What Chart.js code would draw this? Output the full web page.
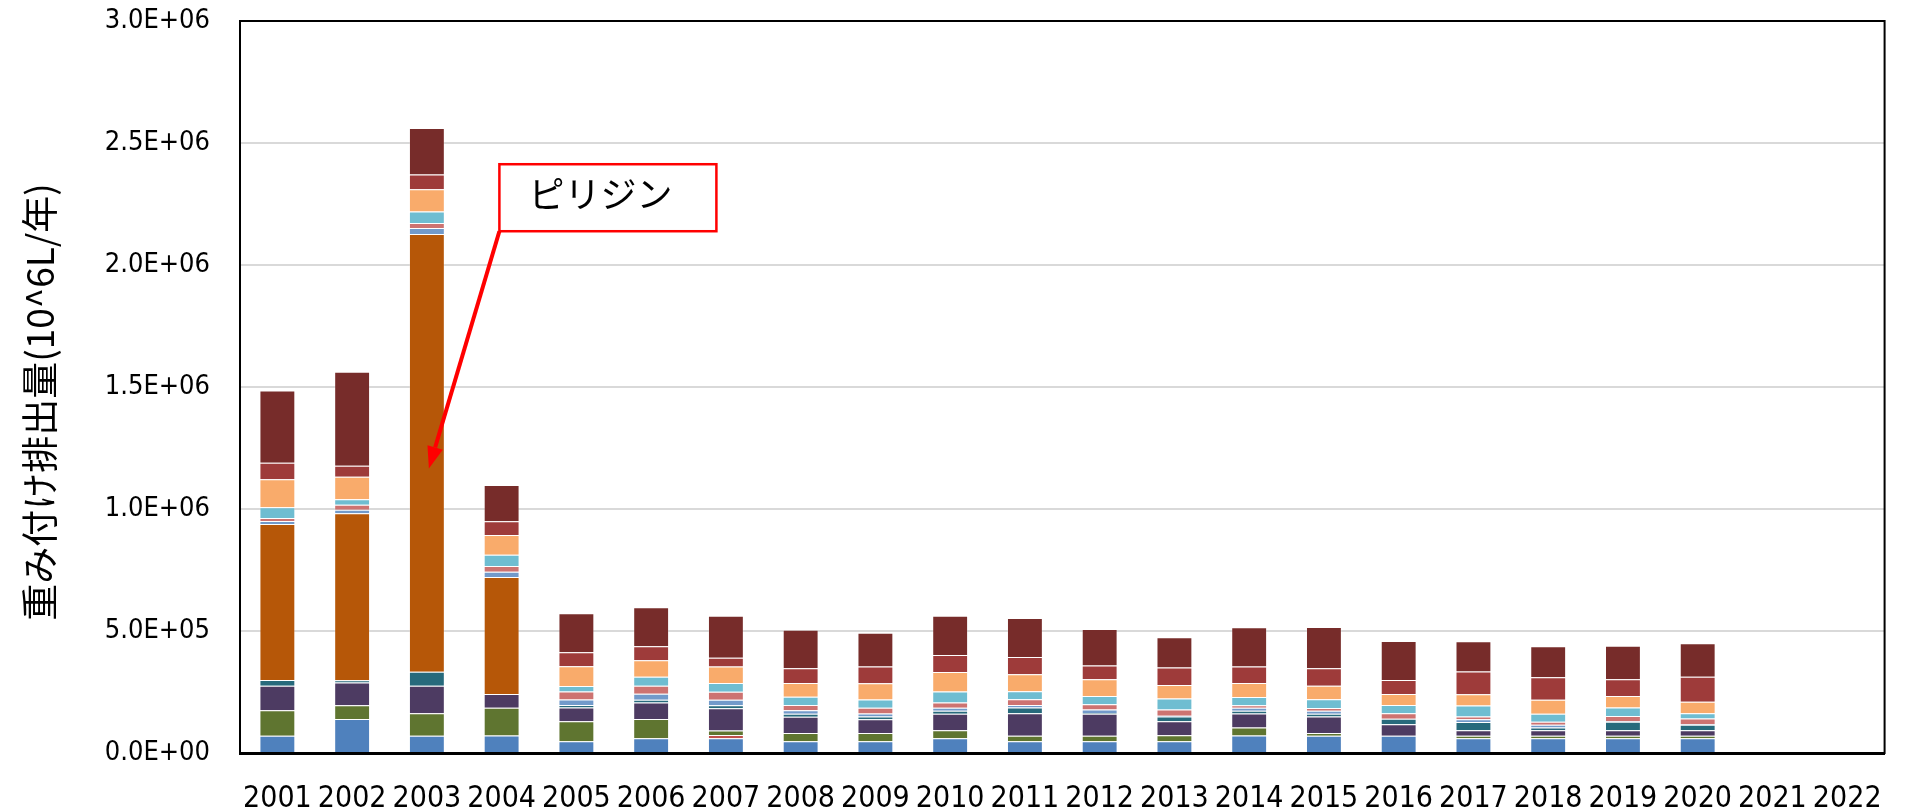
<!DOCTYPE html>
<html lang="ja">
<head>
<meta charset="utf-8">
<title>重み付け排出量</title>
<script src="https://cdn.jsdelivr.net/npm/chart.js@4/dist/chart.umd.min.js"></script>
<style>
  html, body { margin: 0; padding: 0; background: #ffffff; }
  #wrap { width: 1910px; height: 812px; }
</style>
</head>
<body>
<div id="wrap"><canvas id="chart" width="1910" height="812"></canvas></div>
<script>
// Years on the horizontal axis
const years = ['2001','2002','2003','2004','2005','2006','2007','2008','2009','2010','2011',
               '2012','2013','2014','2015','2016','2017','2018','2019','2020','2021','2022'];

// Weighted emissions per substance (10^6 L / year), stacked bottom to top
const seriesBlue      = [71000,139000,71000,72000,48000,60000,60000,48000,48000,60000,48000,48000,48000,72000,71000,71000,60000,60000,60000,60000,null,null];
const seriesRed       = [0,0,0,0,0,0,13500,0,0,0,0,0,0,0,0,0,0,0,0,0,null,null];
const seriesGreen     = [104000,57000,92000,113000,82000,79000,19000,34000,34000,33000,23000,23000,25000,33000,11000,0,11000,11000,11000,11000,null,null];
const seriesPurple    = [101000,93000,113000,57000,56000,68000,91000,67000,56000,68000,92000,90000,57000,57000,68000,47000,22000,22000,22000,22000,null,null];
const seriesTeal      = [23000,9000,57000,0,11000,11000,12000,12000,12000,12000,23000,3000,20000,11000,11000,22000,34000,11000,35000,23000,null,null];
const seriesPyridine  = [640000,685000,1794000,479000,0,0,0,0,0,0,0,0,0,0,0,0,0,0,0,0,null,null];
const seriesLightBlue = [12000,14000,25000,22000,22000,25000,23000,14000,12000,12000,11000,14000,3000,12000,12000,0,11000,12000,2000,2000,null,null];
const seriesPink      = [12000,20000,20000,23000,33000,33000,33000,22000,23000,22000,23000,22000,25000,11000,11000,23000,12000,12000,22000,23000,null,null];
const seriesCyan      = [44000,23000,47000,47000,23000,36000,35000,34000,34000,45000,33000,34000,45000,34000,36000,34000,45000,33000,34000,22000,null,null];
const seriesApricot   = [115000,92000,91000,80000,81000,68000,68000,56000,67000,80000,70000,68000,56000,57000,56000,45000,46000,57000,48000,47000,null,null];
const seriesBrick     = [68000,45000,61000,57000,57000,57000,36000,60000,68000,70000,70000,57000,71000,68000,71000,57000,93000,92000,68000,102000,null,null];
const seriesMaroon    = [296000,386000,190000,148000,160000,160000,172000,158000,139000,161000,160000,149000,124000,160000,169000,160000,124000,127000,138000,138000,null,null];

// Vertical axis ticks
const yTicks = [0, 500000, 1000000, 1500000, 2000000, 2500000, 3000000];

const yTitle = '重み付け排出量(10^6L/年)';
const calloutText = 'ピリジン';

const stack = [
  { label: '系列1',   data: seriesBlue,      color: '#4F81BD' },
  { label: '系列2',   data: seriesRed,       color: '#C0504D' },
  { label: '系列3',   data: seriesGreen,     color: '#5F7530' },
  { label: '系列4',   data: seriesPurple,    color: '#4D3B62' },
  { label: '系列5',   data: seriesTeal,      color: '#276A7C' },
  { label: 'ピリジン', data: seriesPyridine,  color: '#B65708' },
  { label: '系列7',   data: seriesLightBlue, color: '#729ACA' },
  { label: '系列8',   data: seriesPink,      color: '#CD7371' },
  { label: '系列9',   data: seriesCyan,      color: '#6FBDD1' },
  { label: '系列10',  data: seriesApricot,   color: '#F9AB6B' },
  { label: '系列11',  data: seriesBrick,     color: '#9E3B3A' },
  { label: '系列12',  data: seriesMaroon,    color: '#772C2A' }
];

function sciLabel(v) {
  const [m, e] = Number(v).toExponential(1).split('e');
  const sign = e[0] === '-' ? '-' : '+';
  const digits = e.replace(/[+-]/, '').padStart(2, '0');
  return m + 'E' + sign + digits;
}

// Frame around the plot area
const frame = {
  id: 'frame',
  afterDatasetsDraw(chart) {
    const { ctx, chartArea: a } = chart;
    ctx.save();
    ctx.strokeStyle = '#000';
    ctx.lineWidth = 2;
    ctx.strokeRect(a.left, a.top, a.right - a.left, a.bottom - a.top);
    ctx.restore();
  }
};

// Rotated axis title on the left
const sideTitle = {
  id: 'sideTitle',
  afterDraw(chart) {
    const { ctx, chartArea: a } = chart;
    ctx.save();
    ctx.translate(40, (a.top + a.bottom) / 2 + 15);
    ctx.rotate(-Math.PI / 2);
    ctx.font = "37px 'Noto Sans CJK JP'";
    ctx.fillStyle = '#000';
    ctx.textAlign = 'center';
    ctx.textBaseline = 'middle';
    ctx.fillText(yTitle, 0, 0);
    ctx.restore();
  }
};

// Callout box with an arrow pointing at the pyridine segment of 2003
const callout = {
  id: 'callout',
  afterDraw(chart) {
    const { ctx } = chart;
    const xs = chart.scales.x, ys = chart.scales.y;
    const tipX = xs.getPixelForValue(2) + 2;
    const tipY = ys.getPixelForValue(1166000);
    const boxL = xs.getPixelForValue(2.97);
    const boxT = ys.getPixelForValue(2413000);
    const boxW = 217, boxH = 67;
    const boxB = boxT + boxH;

    ctx.save();
    // box
    ctx.fillStyle = '#fff';
    ctx.fillRect(boxL, boxT, boxW, boxH);
    ctx.strokeStyle = '#FF0000';
    ctx.lineWidth = 2.5;
    ctx.strokeRect(boxL, boxT, boxW, boxH);
    // text
    ctx.fillStyle = '#000';
    ctx.font = "36px 'Noto Sans CJK JP'";
    ctx.textAlign = 'center';
    ctx.textBaseline = 'middle';
    ctx.fillText(calloutText, boxL + 101, boxT + 30);
    // arrow shaft
    const ang = Math.atan2(tipY - boxB, tipX - boxL);
    const headLen = 22, headHalf = 8;
    const baseX = tipX - headLen * Math.cos(ang);
    const baseY = tipY - headLen * Math.sin(ang);
    ctx.strokeStyle = '#FF0000';
    ctx.lineWidth = 4;
    ctx.beginPath();
    ctx.moveTo(boxL, boxB);
    ctx.lineTo(baseX, baseY);
    ctx.stroke();
    // arrow head
    ctx.fillStyle = '#FF0000';
    ctx.beginPath();
    ctx.moveTo(tipX, tipY);
    ctx.lineTo(baseX + headHalf * Math.sin(ang), baseY - headHalf * Math.cos(ang));
    ctx.lineTo(baseX - headHalf * Math.sin(ang), baseY + headHalf * Math.cos(ang));
    ctx.closePath();
    ctx.fill();
    ctx.restore();
  }
};

new Chart(document.getElementById('chart'), {
  type: 'bar',
  data: {
    labels: years,
    datasets: stack.map(s => ({
      label: s.label,
      data: s.data,
      backgroundColor: s.color,
      borderColor: 'rgba(255,255,255,0.22)',
      borderWidth: 1,
      categoryPercentage: 1.0,
      barPercentage: 0.48
    }))
  },
  options: {
    responsive: false,
    devicePixelRatio: 1,
    animation: false,
    layout: { padding: { top: 21, right: 20, left: 0, bottom: 0 } },
    plugins: {
      legend: { display: false },
      tooltip: { enabled: false },
      title: { display: false }
    },
    scales: {
      x: {
        stacked: true,
        grid: { display: false, drawTicks: false },
        border: { display: true, color: '#000', width: 3 },
        ticks: {
          color: '#000',
          font: { family: "'Liberation Sans Narrow', 'DejaVu Sans Condensed', sans-serif", size: 30 },
          padding: 28,
          maxRotation: 0,
          autoSkip: false
        },
        afterFit(scale) { scale.height = 59; }
      },
      y: {
        stacked: true,
        min: 0,
        max: 3000000,
        afterBuildTicks(scale) { scale.ticks = yTicks.map(v => ({ value: v })); },
        grid: { color: '#D9D9D9', lineWidth: 2, drawTicks: false },
        border: { display: true, color: '#000', width: 2 },
        ticks: {
          color: '#000',
          font: { family: "'Liberation Sans Narrow', 'DejaVu Sans Condensed', sans-serif", size: 27 },
          padding: 30,
          callback: v => sciLabel(v)
        },
        afterFit(scale) {
          scale.width = 240;
          scale.paddingTop = 16;
          scale.paddingBottom = 16;
        }
      }
    }
  },
  plugins: [frame, sideTitle, callout]
});
</script>
</body>
</html>
